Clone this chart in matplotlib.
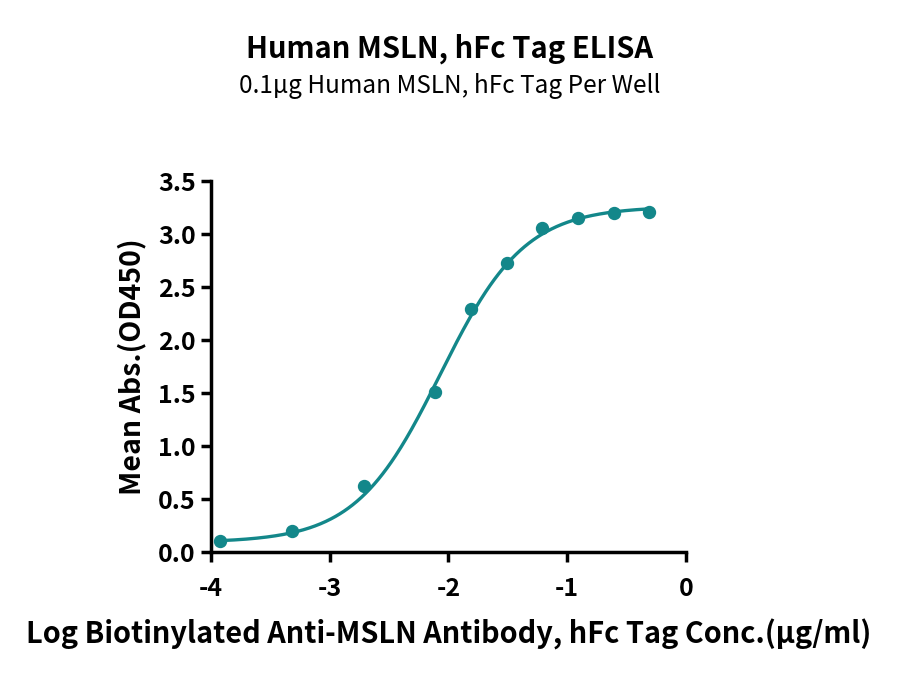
import numpy as np
import matplotlib
matplotlib.use("Agg")
import matplotlib.pyplot as plt

plt.rcParams['font.family'] = ['Noto Sans CJK SC', 'DejaVu Sans']

# Messwerte (log Konzentration, OD450)
log_conc = [-3.92, -3.32, -2.71, -2.11, -1.81, -1.51, -1.21, -0.91, -0.61, -0.31]
mean_abs = [0.10, 0.20, 0.62, 1.51, 2.29, 2.73, 3.06, 3.15, 3.20, 3.21]

# 4PL Fit-Parameter
fit_bottom = 0.09
fit_top = 3.26
fit_log_ec50 = -2.07
fit_hill = 1.22

teal = '#13878a'

def four_pl(x):
    return fit_bottom + (fit_top - fit_bottom) / (1 + 10 ** ((fit_log_ec50 - x) * fit_hill))

fig = plt.figure(figsize=(9, 6.77), dpi=100)
ax = fig.add_axes([0.2344, 0.1846, 0.5278, 0.548])

xs = np.linspace(min(log_conc), max(log_conc), 400)
ax.plot(xs, four_pl(xs), color=teal, linewidth=2.4, zorder=2)
ax.plot(log_conc, mean_abs, 'o', color=teal, markersize=8.6, zorder=3, clip_on=False)

ax.set_xlim(-4, 0)
ax.set_ylim(0, 3.5)
ax.set_xticks([-4, -3, -2, -1, 0])
ax.set_xticklabels(['-4', '-3', '-2', '-1', '0'])
ax.set_yticks(np.arange(0, 3.51, 0.5))
ax.set_yticklabels(['%.1f' % v for v in np.arange(0, 3.51, 0.5)])

for s in ['top', 'right']:
    ax.spines[s].set_visible(False)
for s in ['left', 'bottom']:
    ax.spines[s].set_linewidth(2.5)
ax.tick_params(width=2.5, length=7, labelsize=18)
ax.tick_params(axis='x', pad=11)
ax.tick_params(axis='y', pad=4)
for lbl in ax.get_xticklabels() + ax.get_yticklabels():
    lbl.set_fontweight('bold')

ax.set_xlabel('Log Biotinylated Anti-MSLN Antibody, hFc Tag Conc.(μg/ml)',
              fontsize=20.8, fontweight='bold', labelpad=13)
ax.set_ylabel('Mean Abs.(OD450)', fontsize=20.5, fontweight='bold', labelpad=8)

fig.text(0.5, 0.928, 'Human MSLN, hFc Tag ELISA', ha='center', va='center',
         fontsize=21, fontweight='bold')
fig.text(0.5, 0.873, '0.1μg Human MSLN, hFc Tag Per Well', ha='center', va='center',
         fontsize=17.5)

fig.savefig('out.png', dpi=100)
